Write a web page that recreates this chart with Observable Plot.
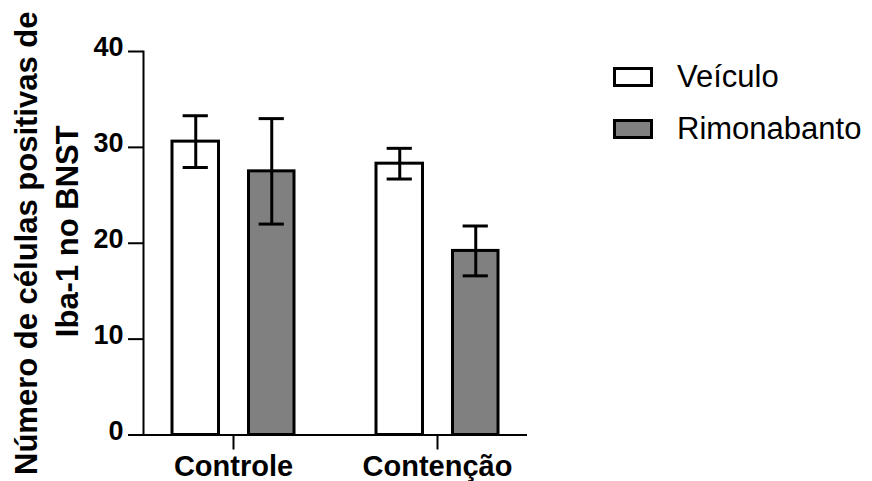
<!DOCTYPE html>
<html>
<head>
<meta charset="utf-8">
<script src="https://cdn.jsdelivr.net/npm/d3@7"></script>
<script src="https://cdn.jsdelivr.net/npm/@observablehq/plot@0.6"></script>
<style>
  html, body { margin: 0; padding: 0; background: #fff; }
  #wrap { position: relative; width: 872px; height: 481px; overflow: hidden; }
  .sw { position: absolute; width: 34px; height: 14px; border: 3px solid #000; }
  .lt { position: absolute; font-family: "Liberation Sans", Arial, sans-serif; font-size: 31px; line-height: 31px; color: #000; white-space: nowrap; }
</style>
</head>
<body>
<div id="wrap"></div>
<script>
// ---- data ----
const groups = ["Controle", "Contenção"];
const series = ["Veículo", "Rimonabanto"];
const veiculoMean = [30.6, 28.3];
const veiculoErr = [2.7, 1.6];
const rimonabantoMean = [27.5, 19.2];
const rimonabantoErr = [5.5, 2.6];
const yTicks = [0, 10, 20, 30, 40];
const seriesColors = ["#ffffff", "#808080"];
const yTitle1 = "Número de células positivas de";
const yTitle2 = "Iba-1 no BNST";

const rows = (means, errs, s) => groups.map((g, i) => ({
  group: g, series: s, mean: means[i], lo: means[i] - errs[i], hi: means[i] + errs[i]
}));
const vData = rows(veiculoMean, veiculoErr, series[0]);
const rData = rows(rimonabantoMean, rimonabantoErr, series[1]);

const W = 872, H = 481;
const bold = "bold";
const arial = "Liberation Sans, Arial, sans-serif";

const chart = Plot.plot({
  width: W,
  height: H,
  marginLeft: 143,
  marginRight: 345,
  marginTop: 51,
  marginBottom: 46.5,
  style: { background: "#fff", overflow: "visible", fontFamily: arial },
  x: { domain: groups, paddingInner: 0.401, paddingOuter: 0.139, label: null },
  y: { domain: [0, 40], label: null },
  marks: [
    Plot.barY(vData, { x: "group", y: "mean", fill: seriesColors[0], stroke: "#000", strokeWidth: 3, insetLeft: 0, insetRight: 75.5 }),
    Plot.barY(rData, { x: "group", y: "mean", fill: seriesColors[1], stroke: "#000", strokeWidth: 3, insetLeft: 76.5, insetRight: 0 }),
    Plot.ruleX(vData, { x: "group", y1: "lo", y2: "hi", dx: -37.75, stroke: "#000", strokeWidth: 3 }),
    Plot.ruleX(rData, { x: "group", y1: "lo", y2: "hi", dx: 38.25, stroke: "#000", strokeWidth: 3 }),
    Plot.tickY(vData, { x: "group", y: "hi", insetLeft: 10.65, insetRight: 86.15, stroke: "#000", strokeWidth: 3 }),
    Plot.tickY(vData, { x: "group", y: "lo", insetLeft: 10.65, insetRight: 86.15, stroke: "#000", strokeWidth: 3 }),
    Plot.tickY(rData, { x: "group", y: "hi", insetLeft: 86.65, insetRight: 10.15, stroke: "#000", strokeWidth: 3 }),
    Plot.tickY(rData, { x: "group", y: "lo", insetLeft: 86.65, insetRight: 10.15, stroke: "#000", strokeWidth: 3 }),
    Plot.ruleY([0], { stroke: "#000", strokeWidth: 2 }),
    Plot.frame({ anchor: "left", stroke: "#000", strokeWidth: 2 }),
    Plot.axisY({ ticks: yTicks, tickSize: 15, tickFormat: () => "", stroke: "#000", strokeWidth: 2, label: null }),
    Plot.text(yTicks, { y: d => d, text: d => String(d), frameAnchor: "left", dx: -20, dy: -4, textAnchor: "end",
      fontFamily: arial, fontWeight: bold, fontSize: 27, fill: "#000" }),
    Plot.axisX({ tickSize: 15, tickPadding: 5, stroke: "#000", strokeWidth: 2, fill: "#000",
      fontFamily: arial, fontWeight: bold, fontSize: 29, label: null }),
    Plot.text([yTitle1], { text: d => d, frameAnchor: "left", rotate: -90, lineAnchor: "bottom", textAnchor: "middle",
      dx: -107, dy: 0, fontFamily: arial, fontWeight: bold, fontSize: 31, fill: "#000" }),
    Plot.text([yTitle2], { text: d => d, frameAnchor: "left", rotate: -90, lineAnchor: "bottom", textAnchor: "middle",
      dx: -66, dy: -12, fontFamily: arial, fontWeight: bold, fontSize: 31, fill: "#000" })
  ]
});

const wrap = document.getElementById("wrap");
wrap.appendChild(chart);

// legend (HTML, to the right of the plot)
const legendTops = [66.5, 118.5];
series.forEach((s, i) => {
  const sw = document.createElement("div");
  sw.className = "sw";
  sw.style.left = "613px";
  sw.style.top = legendTops[i] + "px";
  sw.style.background = seriesColors[i];
  wrap.appendChild(sw);
  const t = document.createElement("div");
  t.className = "lt";
  t.style.left = "677px";
  t.style.top = (legendTops[i] - 6) + "px";
  t.textContent = s;
  wrap.appendChild(t);
});
</script>
</body>
</html>
